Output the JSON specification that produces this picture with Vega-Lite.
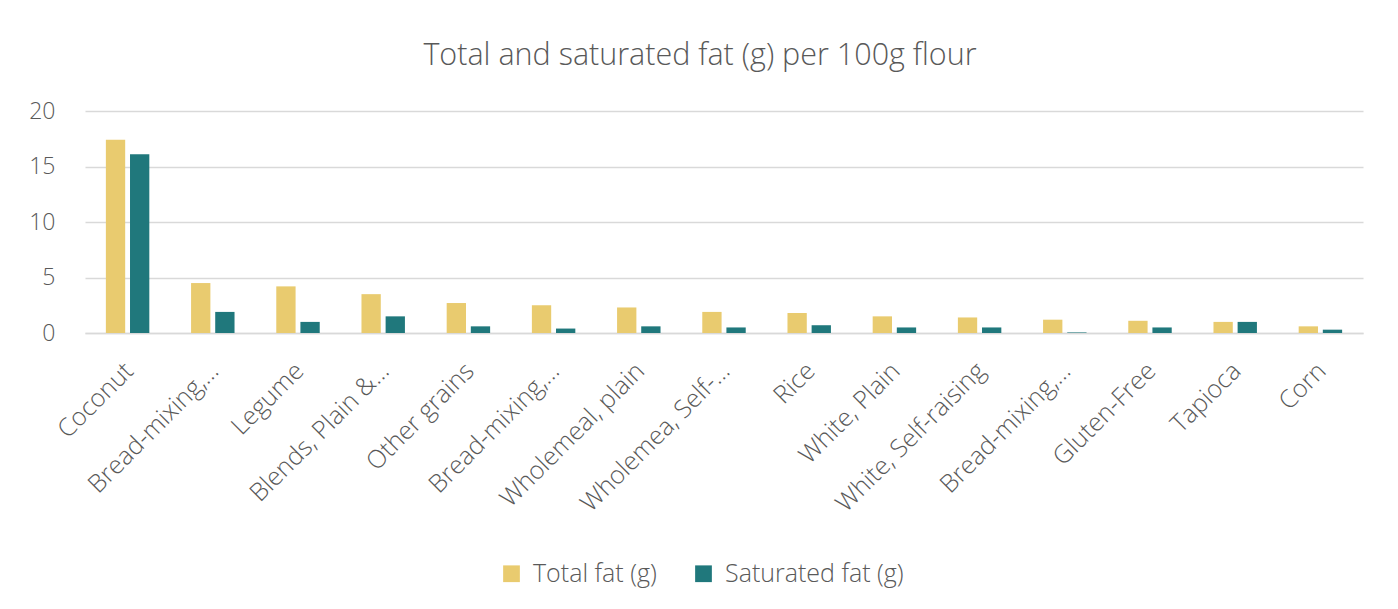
{
  "$schema": "https://vega.github.io/schema/vega-lite/v6.json",
  "width": 1278,
  "height": 222,
  "autosize": "none",
  "padding": {"left": 85, "top": 111, "right": 35, "bottom": 276},
  "background": "white",
  "title": {
    "text": "Total and saturated fat (g) per 100g flour",
    "anchor": "middle",
    "dx": -24,
    "offset": 29,
    "fontSize": 30.5,
    "font": "Open Sans",
    "fontWeight": 300,
    "color": "#595959"
  },
  "data": {
    "values": [
      {"flour": "Coconut", "order": 1, "measure": "Total fat (g)", "fat": 17.4},
      {"flour": "Coconut", "order": 1, "measure": "Saturated fat (g)", "fat": 16.1},
      {"flour": "Bread-mixing, Wholemeal", "order": 2, "measure": "Total fat (g)", "fat": 4.5},
      {"flour": "Bread-mixing, Wholemeal", "order": 2, "measure": "Saturated fat (g)", "fat": 1.9},
      {"flour": "Legume", "order": 3, "measure": "Total fat (g)", "fat": 4.2},
      {"flour": "Legume", "order": 3, "measure": "Saturated fat (g)", "fat": 1.0},
      {"flour": "Blends, Plain & Self-raising", "order": 4, "measure": "Total fat (g)", "fat": 3.5},
      {"flour": "Blends, Plain & Self-raising", "order": 4, "measure": "Saturated fat (g)", "fat": 1.5},
      {"flour": "Other grains", "order": 5, "measure": "Total fat (g)", "fat": 2.7},
      {"flour": "Other grains", "order": 5, "measure": "Saturated fat (g)", "fat": 0.6},
      {"flour": "Bread-mixing, White", "order": 6, "measure": "Total fat (g)", "fat": 2.5},
      {"flour": "Bread-mixing, White", "order": 6, "measure": "Saturated fat (g)", "fat": 0.4},
      {"flour": "Wholemeal, plain", "order": 7, "measure": "Total fat (g)", "fat": 2.3},
      {"flour": "Wholemeal, plain", "order": 7, "measure": "Saturated fat (g)", "fat": 0.6},
      {"flour": "Wholemea, Self-raising", "order": 8, "measure": "Total fat (g)", "fat": 1.9},
      {"flour": "Wholemea, Self-raising", "order": 8, "measure": "Saturated fat (g)", "fat": 0.5},
      {"flour": "Rice", "order": 9, "measure": "Total fat (g)", "fat": 1.8},
      {"flour": "Rice", "order": 9, "measure": "Saturated fat (g)", "fat": 0.7},
      {"flour": "White, Plain", "order": 10, "measure": "Total fat (g)", "fat": 1.5},
      {"flour": "White, Plain", "order": 10, "measure": "Saturated fat (g)", "fat": 0.5},
      {"flour": "White, Self-raising", "order": 11, "measure": "Total fat (g)", "fat": 1.4},
      {"flour": "White, Self-raising", "order": 11, "measure": "Saturated fat (g)", "fat": 0.5},
      {"flour": "Bread-mixing, Rye", "order": 12, "measure": "Total fat (g)", "fat": 1.2},
      {"flour": "Bread-mixing, Rye", "order": 12, "measure": "Saturated fat (g)", "fat": 0.05},
      {"flour": "Gluten-Free", "order": 13, "measure": "Total fat (g)", "fat": 1.1},
      {"flour": "Gluten-Free", "order": 13, "measure": "Saturated fat (g)", "fat": 0.5},
      {"flour": "Tapioca", "order": 14, "measure": "Total fat (g)", "fat": 1.0},
      {"flour": "Tapioca", "order": 14, "measure": "Saturated fat (g)", "fat": 1.0},
      {"flour": "Corn", "order": 15, "measure": "Total fat (g)", "fat": 0.6},
      {"flour": "Corn", "order": 15, "measure": "Saturated fat (g)", "fat": 0.3}
    ]
  },
  "mark": {"type": "bar"},
  "encoding": {
    "x": {
      "field": "flour",
      "type": "nominal",
      "sort": {"field": "order"},
      "scale": {"paddingInner": 0.49, "paddingOuter": 0.245},
      "axis": {
        "title": null,
        "labelAngle": -45,
        "labelFontSize": 25,
        "labelFont": "Open Sans",
        "labelFontWeight": 300,
        "labelColor": "#595959",
        "labelPadding": 25,
        "labelOffset": -7,
        "labelLimit": 300,
        "ticks": false,
        "domainColor": "#d9d9d9",
        "domainWidth": 1.5,
        "labelExpr": "indexof(datum.label, 'Bread-mixing') == 0 ? 'Bread-mixing,…' : datum.label == 'Blends, Plain & Self-raising' ? 'Blends, Plain &…' : datum.label == 'Wholemea, Self-raising' ? 'Wholemea, Self-…' : datum.label"
      }
    },
    "xOffset": {
      "field": "measure",
      "type": "nominal",
      "sort": ["Total fat (g)", "Saturated fat (g)"],
      "scale": {"paddingInner": 0.2, "paddingOuter": 0}
    },
    "y": {
      "field": "fat",
      "type": "quantitative",
      "scale": {"domain": [0, 20]},
      "axis": {
        "title": null,
        "values": [0, 5, 10, 15, 20],
        "labelFontSize": 23,
        "labelFont": "Open Sans",
        "labelFontWeight": 300,
        "labelColor": "#595959",
        "labelPadding": 30,
        "ticks": false,
        "domain": false,
        "gridColor": "#d9d9d9",
        "gridWidth": 1.5
      }
    },
    "color": {
      "field": "measure",
      "type": "nominal",
      "sort": ["Total fat (g)", "Saturated fat (g)"],
      "scale": {"domain": ["Total fat (g)", "Saturated fat (g)"], "range": ["#E9CB6F", "#20787C"]},
      "legend": {
        "title": null,
        "orient": "none",
        "direction": "horizontal",
        "legendX": 414,
        "legendY": 450,
        "symbolType": "square",
        "symbolSize": 280,
        "symbolStrokeWidth": 0,
        "labelFontSize": 25,
        "labelFont": "Open Sans",
        "labelFontWeight": 300,
        "labelColor": "#595959",
        "labelLimit": 400,
        "columnPadding": 34,
        "labelOffset": 9
      }
    }
  },
  "config": {
    "view": {"stroke": null}
  }
}
